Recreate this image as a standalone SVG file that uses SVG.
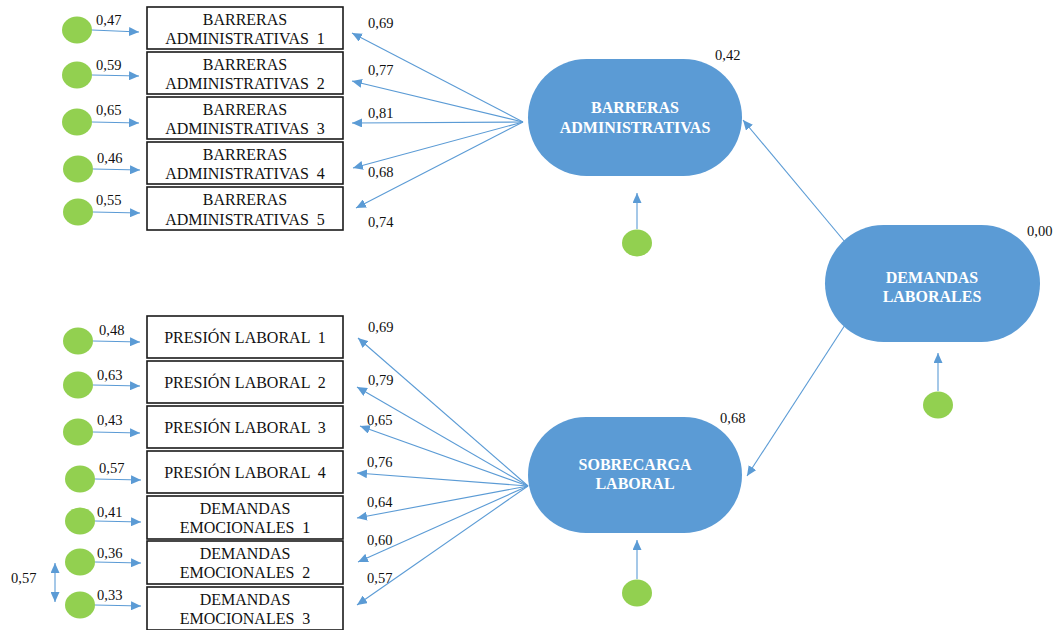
<svg xmlns="http://www.w3.org/2000/svg" width="1064" height="630" viewBox="0 0 1064 630">
<defs>
<marker id="ah" markerUnits="userSpaceOnUse" markerWidth="11" markerHeight="9" refX="10" refY="4.5" orient="auto-start-reverse" viewBox="0 0 11 9">
<path d="M0,0 L10,4.5 L0,9 z" fill="#5B9BD5"/>
</marker>
<style>
.box{fill:#fff;stroke:#1a1a1a;stroke-width:1.6}
.bt{font-family:"Liberation Serif",serif;font-size:16px;fill:#111;text-anchor:middle;white-space:pre}
.lat{fill:#5B9BD5}
.lt{font-family:"Liberation Serif",serif;font-size:16px;font-weight:bold;fill:#fff;text-anchor:middle}
.err{fill:#92D050}
.num{font-family:"Liberation Serif",serif;font-size:14.5px;fill:#111}
.ar{stroke:#5B9BD5;stroke-width:1.1;fill:none;marker-end:url(#ah)}
</style>
</defs>
<rect width="1064" height="630" fill="#fff"/>

<g id="connectors">
<line class="ar" x1="92" y1="30" x2="139" y2="32"/>
<line class="ar" x1="92" y1="75" x2="139" y2="76"/>
<line class="ar" x1="92" y1="122" x2="139" y2="123"/>
<line class="ar" x1="93" y1="169" x2="140" y2="170"/>
<line class="ar" x1="93" y1="212" x2="140" y2="213"/>
<line class="ar" x1="93" y1="341" x2="140" y2="342"/>
<line class="ar" x1="93" y1="385" x2="140" y2="386"/>
<line class="ar" x1="93" y1="432" x2="140" y2="433"/>
<line class="ar" x1="95" y1="479" x2="141" y2="480"/>
<line class="ar" x1="95" y1="521" x2="141" y2="522"/>
<line class="ar" x1="95" y1="562" x2="141" y2="563"/>
<line class="ar" x1="95" y1="605" x2="141" y2="606"/>
<line class="ar" x1="55" y1="563" x2="55" y2="602" style="marker-start:url(#ah)"/>
<line class="ar" x1="523" y1="122" x2="352" y2="33"/>
<line class="ar" x1="523" y1="122" x2="352" y2="81"/>
<line class="ar" x1="523" y1="122" x2="352" y2="123"/>
<line class="ar" x1="523" y1="122" x2="353" y2="168"/>
<line class="ar" x1="523" y1="122" x2="356" y2="208"/>
<line class="ar" x1="528" y1="486" x2="358" y2="338"/>
<line class="ar" x1="528" y1="486" x2="357" y2="387"/>
<line class="ar" x1="528" y1="486" x2="360" y2="426"/>
<line class="ar" x1="528" y1="486" x2="357" y2="473"/>
<line class="ar" x1="528" y1="486" x2="357" y2="518"/>
<line class="ar" x1="528" y1="486" x2="358" y2="562"/>
<line class="ar" x1="528" y1="486" x2="357" y2="605"/>
<line class="ar" x1="845" y1="242" x2="743" y2="120"/>
<line class="ar" x1="845" y1="325" x2="747" y2="476"/>
<line class="ar" x1="637" y1="229" x2="637" y2="193"/>
<line class="ar" x1="637" y1="579" x2="637" y2="540"/>
<line class="ar" x1="938" y1="391" x2="938" y2="353"/>
</g>

<g id="residuals-top">
<ellipse class="err" cx="77" cy="30" rx="15" ry="13.5"/>
<ellipse class="err" cx="77" cy="75" rx="15" ry="13.5"/>
<ellipse class="err" cx="77" cy="122" rx="15" ry="13.5"/>
<ellipse class="err" cx="78" cy="169" rx="15" ry="13.5"/>
<ellipse class="err" cx="78" cy="212" rx="15" ry="13.5"/>
<text class="num" x="96" y="25">0,47</text>
<text class="num" x="96" y="70">0,59</text>
<text class="num" x="96" y="115">0,65</text>
<text class="num" x="97" y="163">0,46</text>
<text class="num" x="96" y="205">0,55</text>
</g>

<g id="residuals-bottom">
<ellipse class="err" cx="78" cy="341" rx="15" ry="13.5"/>
<ellipse class="err" cx="78" cy="385" rx="15" ry="13.5"/>
<ellipse class="err" cx="78" cy="432" rx="15" ry="13.5"/>
<ellipse class="err" cx="80" cy="479" rx="15" ry="13.5"/>
<ellipse class="err" cx="80" cy="521" rx="15" ry="13.5"/>
<ellipse class="err" cx="80" cy="562" rx="15" ry="13.5"/>
<ellipse class="err" cx="80" cy="605" rx="15" ry="13.5"/>
<text class="num" x="99" y="335">0,48</text>
<text class="num" x="97" y="380">0,63</text>
<text class="num" x="97" y="425">0,43</text>
<text class="num" x="99" y="473">0,57</text>
<text class="num" x="97" y="517">0,41</text>
<text class="num" x="97" y="558">0,36</text>
<text class="num" x="97" y="600">0,33</text>
<text class="num" x="11" y="583">0,57</text>
</g>

<g id="ba1"><rect class="box" x="147" y="7" width="196" height="42"/><text class="bt" x="245" y="25">BARRERAS</text><text class="bt" x="245" y="44">ADMINISTRATIVAS  1</text></g>
<g id="ba2"><rect class="box" x="147" y="52" width="196" height="42"/><text class="bt" x="245" y="70">BARRERAS</text><text class="bt" x="245" y="89">ADMINISTRATIVAS  2</text></g>
<g id="ba3"><rect class="box" x="147" y="97" width="196" height="42"/><text class="bt" x="245" y="115">BARRERAS</text><text class="bt" x="245" y="134">ADMINISTRATIVAS  3</text></g>
<g id="ba4"><rect class="box" x="147" y="142" width="196" height="42"/><text class="bt" x="245" y="160">BARRERAS</text><text class="bt" x="245" y="179">ADMINISTRATIVAS  4</text></g>
<g id="ba5"><rect class="box" x="147" y="187" width="196" height="43"/><text class="bt" x="245" y="205">BARRERAS</text><text class="bt" x="245" y="225">ADMINISTRATIVAS  5</text></g>

<g id="pl1"><rect class="box" x="147" y="316" width="196" height="42"/><text class="bt" x="245" y="343">PRESIÓN LABORAL  1</text></g>
<g id="pl2"><rect class="box" x="147" y="361" width="196" height="42"/><text class="bt" x="245" y="388">PRESIÓN LABORAL  2</text></g>
<g id="pl3"><rect class="box" x="147" y="406" width="196" height="42"/><text class="bt" x="245" y="433">PRESIÓN LABORAL  3</text></g>
<g id="pl4"><rect class="box" x="147" y="451" width="196" height="42"/><text class="bt" x="245" y="478">PRESIÓN LABORAL  4</text></g>
<g id="de1"><rect class="box" x="147" y="496" width="196" height="43"/><text class="bt" x="245" y="514">DEMANDAS</text><text class="bt" x="245" y="533">EMOCIONALES  1</text></g>
<g id="de2"><rect class="box" x="147" y="541" width="196" height="43"/><text class="bt" x="245" y="559">DEMANDAS</text><text class="bt" x="245" y="578">EMOCIONALES  2</text></g>
<g id="de3"><rect class="box" x="147" y="587" width="196" height="43"/><text class="bt" x="245" y="605">DEMANDAS</text><text class="bt" x="245" y="624">EMOCIONALES  3</text></g>

<g id="loadings-labels">
<text class="num" x="368" y="28">0,69</text>
<text class="num" x="368" y="75">0,77</text>
<text class="num" x="368" y="118">0,81</text>
<text class="num" x="368" y="177">0,68</text>
<text class="num" x="368" y="227">0,74</text>
<text class="num" x="368" y="332">0,69</text>
<text class="num" x="368" y="385">0,79</text>
<text class="num" x="367" y="425">0,65</text>
<text class="num" x="367" y="467">0,76</text>
<text class="num" x="367" y="507">0,64</text>
<text class="num" x="367" y="545">0,60</text>
<text class="num" x="367" y="583">0,57</text>
</g>

<g id="barreras">
<rect class="lat" x="528" y="59" width="214" height="117" rx="58.5" ry="58.5"/>
<text class="lt" x="635" y="113">BARRERAS</text>
<text class="lt" x="635" y="133">ADMINISTRATIVAS</text>
<text class="num" x="715" y="60">0,42</text>
<ellipse class="err" cx="637" cy="243" rx="15" ry="13.5"/>
</g>

<g id="sobrecarga">
<rect class="lat" x="528" y="417" width="214" height="116" rx="58" ry="58"/>
<text class="lt" x="635" y="470">SOBRECARGA</text>
<text class="lt" x="635" y="489">LABORAL</text>
<text class="num" x="720" y="423">0,68</text>
<ellipse class="err" cx="637" cy="593" rx="15" ry="13.5"/>
</g>

<g id="demandas">
<rect class="lat" x="825" y="225" width="215" height="117" rx="58.5" ry="58.5"/>
<text class="lt" x="932" y="283">DEMANDAS</text>
<text class="lt" x="932" y="302">LABORALES</text>
<text class="num" x="1027" y="236">0,00</text>
<ellipse class="err" cx="938" cy="405" rx="15" ry="13.5"/>
</g>
</svg>
